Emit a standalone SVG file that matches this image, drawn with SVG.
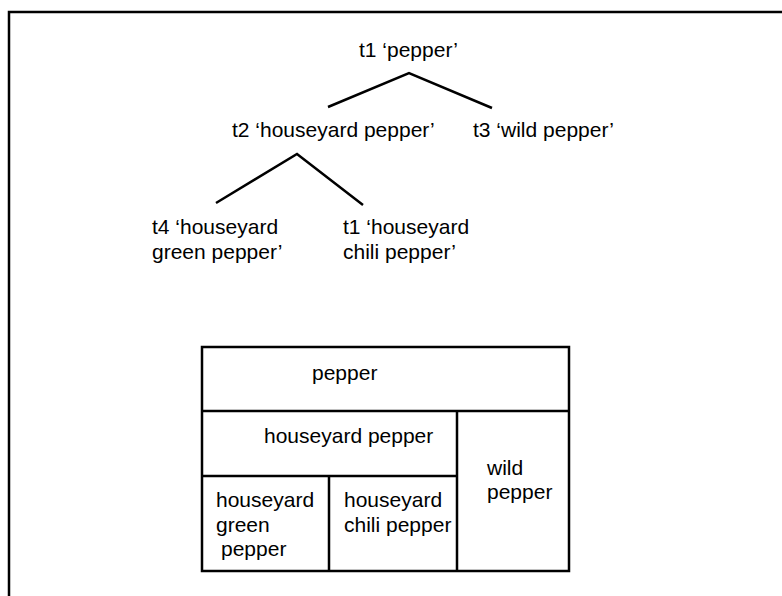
<svg xmlns="http://www.w3.org/2000/svg" width="782" height="596" viewBox="0 0 782 596">
<style>
text{font-family:"Liberation Sans",Arial,sans-serif;font-size:21px;fill:#000}
.ln{stroke:#000;stroke-width:2.5;fill:none}
.cell{stroke:#000;stroke-width:2.5;fill:#fff}
</style>
<rect x="0" y="0" width="782" height="596" fill="#fff"/>
<g id="frame"><path class="ln" d="M9,600 V12 H790"/></g>
<g id="connectors">
<path class="ln" d="M328,107 L409,73 L492,108"/>
<path class="ln" d="M216,203 L297,154 L363,205"/>
</g>
<g id="n-t1"><text x="359" y="57">t1 ‘pepper’</text></g>
<g id="n-t2"><text x="232" y="137">t2 ‘houseyard pepper’</text></g>
<g id="n-t3"><text x="473" y="137">t3 ‘wild pepper’</text></g>
<g id="n-t4"><text x="152" y="234">t4 ‘houseyard</text><text x="152" y="259">green pepper’</text></g>
<g id="n-t1b"><text x="343" y="234">t1 ‘houseyard</text><text x="343" y="259">chili pepper’</text></g>
<g id="table">
<rect class="cell" x="202" y="347" width="367" height="224"/>
<path class="ln" d="M202,411 H569 M457,411 V571 M202,476 H457 M329,476 V571"/>
<text x="312" y="380">pepper</text>
<text x="264" y="443">houseyard pepper</text>
<text x="487" y="475">wild</text>
<text x="487" y="499">pepper</text>
<text x="216" y="507">houseyard</text>
<text x="216" y="532">green</text>
<text x="221" y="556">pepper</text>
<text x="344" y="507">houseyard</text>
<text x="344" y="532">chili pepper</text>
</g>
</svg>
